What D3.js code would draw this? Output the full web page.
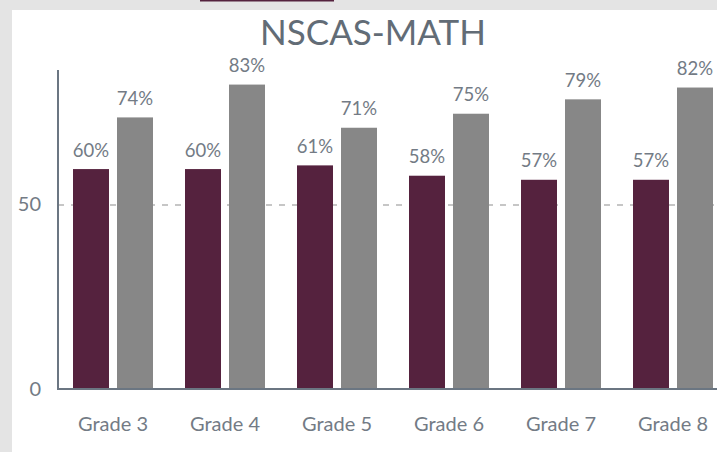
<!DOCTYPE html>
<html>
<head>
<meta charset="utf-8">
<script src="https://cdn.jsdelivr.net/npm/d3@7"></script>
<style>
  body { margin: 0; background: #e4e4e4; }
  svg { display: block; font-family: Lato, "Open Sans", sans-serif; }
</style>
</head>
<body>
<svg id="chart" width="717" height="452"></svg>
<script>
const grades = ["Grade 3", "Grade 4", "Grade 5", "Grade 6", "Grade 7", "Grade 8"];
const seriesNames = ["district", "state"];
const districtVals = [59.6, 59.6, 60.6, 57.8, 56.7, 56.7];
const stateVals = [73.6, 82.5, 70.8, 74.6, 78.5, 81.7];
const yTicks = [0, 50];

const colors = { district: "#55223e", state: "#878787" };
const textColor = "#737b85";

const svg = d3.select("#chart");

// grey page + white card
svg.append("rect").attr("width", 717).attr("height", 452).attr("fill", "#e4e4e4");
svg.append("rect").attr("x", 12).attr("y", 10).attr("width", 705).attr("height", 442).attr("fill", "#fff");
// little maroon tab at top
svg.append("rect").attr("x", 200).attr("y", 0).attr("width", 134).attr("height", 1.5).attr("fill", "#55223e");

const x = d3.scaleBand()
   .domain(grades)
   .range([57, 729])
   .paddingInner(32 / 112)
   .paddingOuter(16 / 112);

const xSub = d3.scaleBand()
   .domain(seriesNames)
   .range([0, x.bandwidth()])
   .paddingInner(8 / 44);

const y = d3.scaleLinear().domain([0, 100]).range([389, 20]);

// title
svg.append("text")
   .attr("x", 373).attr("y", 45)
   .attr("text-anchor", "middle")
   .attr("font-size", 35)
   .attr("fill", "#626c76")
   .text("NSCAS-MATH");

// dashed gridline at 50
svg.append("g")
   .selectAll("line")
   .data(yTicks.filter(d => d > 0))
   .join("line")
   .attr("x1", 58).attr("x2", 717)
   .attr("y1", d => y(d) + 0.5).attr("y2", d => y(d) + 0.5)
   .attr("stroke", "#b4b4b4")
   .attr("stroke-width", 1.5)
   .attr("stroke-dasharray", "6,7");

const rows = grades.map((g, i) => ({
   grade: g,
   values: [
      { key: "district", v: districtVals[i] },
      { key: "state", v: stateVals[i] },
   ],
}));

const group = svg.append("g")
   .selectAll("g")
   .data(rows)
   .join("g")
   .attr("transform", d => `translate(${x(d.grade)},0)`);

group.selectAll("rect")
   .data(d => d.values)
   .join("rect")
   .attr("x", d => xSub(d.key))
   .attr("y", d => y(d.v))
   .attr("width", xSub.bandwidth())
   .attr("height", d => y(0) - y(d.v))
   .attr("fill", d => colors[d.key]);

group.selectAll("text")
   .data(d => d.values)
   .join("text")
   .attr("x", d => xSub(d.key) + xSub.bandwidth() / 2)
   .attr("y", d => y(d.v) - 12.5)
   .attr("text-anchor", "middle")
   .attr("font-size", 18.5)
   .attr("fill", textColor)
   .text(d => Math.round(d.v) + "%");

// axes
const axisG = svg.append("g");
axisG.append("line")
   .attr("x1", 58).attr("x2", 58).attr("y1", 70).attr("y2", 390)
   .attr("stroke", "#6b7682").attr("stroke-width", 2);
axisG.append("line")
   .attr("x1", 57).attr("x2", 717).attr("y1", 389).attr("y2", 389)
   .attr("stroke", "#6b7682").attr("stroke-width", 2);

const yAxis = d3.axisLeft(y).tickValues(yTicks).tickSize(0).tickPadding(17);
svg.append("g")
   .attr("transform", "translate(58,0)")
   .call(yAxis)
   .call(g => g.select(".domain").remove())
   .selectAll("text")
   .attr("font-family", "Lato, sans-serif")
   .attr("font-size", 20)
   .attr("fill", textColor);

const xAxis = d3.axisBottom(x).tickSize(0).tickPadding(28);
svg.append("g")
   .attr("transform", "translate(0,389)")
   .call(xAxis)
   .call(g => g.select(".domain").remove())
   .selectAll("text")
   .attr("font-family", "Lato, sans-serif")
   .attr("font-size", 20)
   .attr("fill", textColor);
</script>
</body>
</html>
